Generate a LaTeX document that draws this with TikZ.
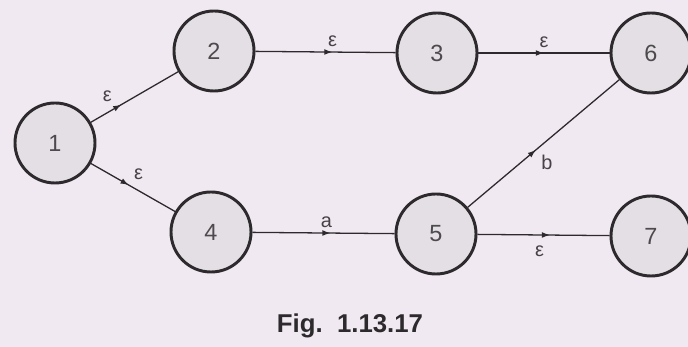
\documentclass[tikz,border=0pt]{standalone}
\usepackage{fontspec}
\setmainfont{Liberation Sans}
\usepackage{xcolor}
\usetikzlibrary{arrows.meta, positioning, calc, decorations.markings}
\definecolor{fabg}{RGB}{241,233,241}
\definecolor{fanode}{RGB}{228,223,228}
\definecolor{fadark}{RGB}{45,42,45}
\definecolor{falabel}{RGB}{70,66,70}

\tikzset{
  state/.style={circle, draw=fadark, fill=fanode, line width=2.5pt,
                minimum size=2.4cm, inner sep=0pt, font=\fontsize{20}{20}\selectfont, text=fadark!85},
  edge/.style={draw=fadark, line width=1.1pt, postaction={decorate},
               decoration={markings, mark=at position #1 with {\arrow{Latex[length=7pt,width=5pt]}}}},
  edge/.default=0.5,
  elbl/.style={font=\fontsize{17}{17}\selectfont, text=falabel, inner sep=4pt}
}

\begin{document}
\begin{tikzpicture}[x=0.03cm, y=-0.03cm]
% page
\fill[fabg] (0,0) rectangle (688,347);
\useasboundingbox (0,0) rectangle (688,347);

% states
\node[state] (n1) at (55,143) {1};
\node[state] (n2) at (214,51) {2};
\node[state] (n3) at (437,53) {3};
\node[state] (n6) at (651,53) {6};
\node[state] (n4) at (211,232) {4};
\node[state] (n5) at (436,234) {5};
\node[state] (n7) at (651,236) {7};

% transitions
\draw[edge=0.35] (n1) -- node[elbl, above left, pos=0.3] {ε} (n2);
\draw[edge=0.45] (n1) -- node[elbl, above right, pos=0.45] {ε} (n4);
\draw[edge=0.55] (n2) -- node[elbl, above, pos=0.55] {ε} (n3);
\draw[edge=0.5]  (n3) -- node[elbl, above, pos=0.5] {ε} (n6);
\draw[edge=0.55] (n4) -- node[elbl, above, pos=0.52] {a} (n5);
\draw[edge=0.45] (n5) -- node[elbl, below right, pos=0.45] {b} (n6);
\draw[edge=0.55] (n5) -- node[elbl, below=5pt, pos=0.47] {ε} (n7);

% caption
\node[font=\fontsize{22}{22}\selectfont\bfseries, text=fadark] (cap) at (350,326) {Fig.\ \ 1.13.17};
\end{tikzpicture}
\end{document}
